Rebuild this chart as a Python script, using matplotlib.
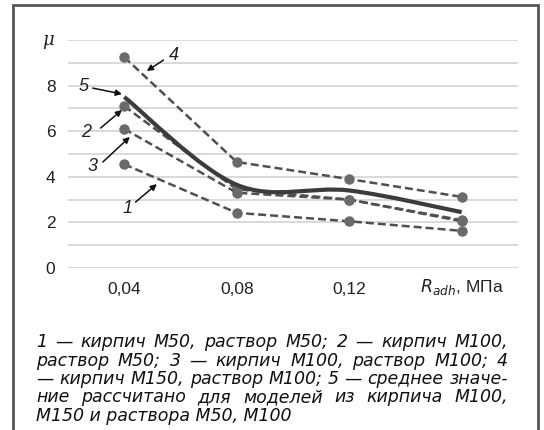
import matplotlib
matplotlib.use("Agg")
import matplotlib.pyplot as plt
from matplotlib.path import Path
from matplotlib.patches import PathPatch, Rectangle
import numpy as np

## Data
categories = ['0,04', '0,08', '0,12', '']
s1 = [4.55, 2.42, 2.05, 1.63]   # кирпич М50, раствор М50
s2 = [7.1, 3.45, 3.0, 2.1]      # кирпич М100, раствор М50
s3 = [6.1, 3.3, 3.0, 2.05]      # кирпич М100, раствор М100
s4 = [9.25, 4.65, 3.9, 3.12]    # кирпич М150, раствор М100
s5 = [7.5, 3.65, 3.4, 2.45]     # среднее значение

caption = ["1 — кирпич М50, раствор М50; 2 — кирпич М100,",
           "раствор М50; 3 — кирпич М100, раствор М100; 4",
           "— кирпич М150, раствор М100; 5 — среднее значе-",
           "ние рассчитано для моделей из кирпича М100,",
           "М150 и раствора М50, М100"]

def smooth_path(xs, ys):
    # catmull-rom through the points, as bezier segments
    pts = list(zip(xs, ys))
    verts = [pts[0]]
    codes = [Path.MOVETO]
    for i in range(len(pts) - 1):
        p0 = pts[i - 1] if i > 0 else pts[i]
        p1 = pts[i]
        p2 = pts[i + 1]
        p3 = pts[i + 2] if i + 2 < len(pts) else pts[i + 1]
        c1 = (p1[0] + (p2[0] - p0[0]) / 6, p1[1] + (p2[1] - p0[1]) / 6)
        c2 = (p2[0] - (p3[0] - p1[0]) / 6, p2[1] - (p3[1] - p1[1]) / 6)
        verts += [c1, c2, p2]
        codes += [Path.CURVE4] * 3
    return Path(verts, codes)

fig = plt.figure(figsize=(5.44, 4.30), dpi=100)
ax = fig.add_axes([0.125, 0.3767, 0.827, 0.5303])
x = np.arange(len(categories))

ax.set_xlim(-0.5, 3.5)
ax.set_ylim(0, 10)
ax.set_yticks(np.arange(0, 11, 1))
ax.grid(True, axis='y', color='#d9d9d9', linewidth=1.4)
ax.set_axisbelow(True)
for sp in ax.spines.values():
    sp.set_visible(False)
ax.tick_params(length=0, labelsize=12.5)
ax.tick_params(axis='y', pad=9)
ax.tick_params(axis='x', pad=10)
ax.set_yticklabels(['0', '', '2', '', '4', '', '6', '', '8', '', ''],
                   fontfamily='Liberation Sans', color='#222222')
ax.set_xticks(x)
ax.set_xticklabels(categories, fontfamily='Liberation Sans', color='#222222')
ax.text(-0.68, 10, 'μ', ha='center', va='center', fontsize=13,
        fontfamily='DejaVu Serif', style='italic', color='#222222')
ax.text(3, -0.83, r'$R_{adh}$, МПа', ha='center', va='center', fontsize=12.5,
        fontfamily='Liberation Sans', color='#222222')

for s in (s1, s2, s3, s4):
    ax.plot(x, s, color='#505050', linestyle=(0, (3.2, 1.6)), linewidth=1.8,
            marker='o', markersize=6.5, markerfacecolor='#6a6a6a',
            markeredgecolor='#6a6a6a', zorder=3)
ax.add_patch(PathPatch(smooth_path(x, s5), facecolor='none',
                       edgecolor='#3c3c3c', linewidth=3, zorder=4))

# number labels with arrows
labels = [('4', (0.44, 9.34), (0.35, 9.12), (0.20, 8.64)),
          ('5', (-0.36, 7.94), (-0.28, 7.89), (-0.02, 7.63)),
          ('2', (-0.34, 5.96), (-0.21, 6.14), (-0.02, 6.93)),
          ('3', (-0.28, 4.47), (-0.19, 4.65), (0.05, 5.75)),
          ('1', (0.03, 2.63), (0.10, 2.89), (0.29, 3.68))]
for t, tp, tail, head in labels:
    ax.text(tp[0], tp[1], t, ha='center', va='center', fontsize=13,
            style='italic', fontfamily='Liberation Sans', color='#222222')
    ax.annotate('', xy=head, xytext=tail,
                arrowprops=dict(arrowstyle='-|>', color='#111111', lw=1.1,
                                mutation_scale=9, shrinkA=0, shrinkB=0))

# caption, justified between x=36 and x=508 px (last line left aligned)
renderer = fig.canvas.get_renderer()
cap_kw = dict(fontsize=12.5, style='italic', fontfamily='DejaVu Sans',
              color='#111111', ha='left', va='center')
left_px, right_px = 36, 508
for i, line in enumerate(caption):
    yf = 1 - (342 + i * 18.5) / 430
    if i == len(caption) - 1:
        fig.text(left_px / 544, yf, line, **cap_kw)
        continue
    words = line.split(' ')
    arts = [fig.text(0, yf, w, **cap_kw) for w in words]
    widths = [a.get_window_extent(renderer).width for a in arts]
    gap = (right_px - left_px - sum(widths)) / (len(words) - 1)
    xp = left_px
    for a, w in zip(arts, widths):
        a.set_x(xp / 544)
        xp += w + gap

fig.patches.append(Rectangle((13 / 544, -0.1), 525 / 544, 1.1 - 5 / 430,
                             transform=fig.transFigure, fill=False,
                             edgecolor='#555555', linewidth=2))

fig.savefig('out.png', dpi=100)
